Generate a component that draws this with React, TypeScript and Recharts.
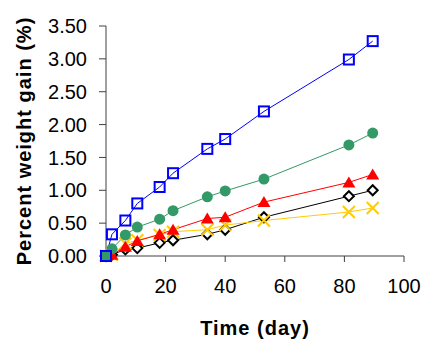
import { LineChart, Line, XAxis, YAxis } from 'recharts'

const days = [0, 2, 6.5, 10.5, 18, 22.5, 34, 40, 53, 81.5, 89.5]
const squareSeries = [0, 0.33, 0.54, 0.8, 1.05, 1.26, 1.63, 1.78, 2.2, 2.99, 3.27]
const circleSeries = [0, 0.11, 0.32, 0.44, 0.56, 0.69, 0.9, 0.99, 1.17, 1.69, 1.87]
const triangleSeries = [0, 0.02, 0.14, 0.23, 0.33, 0.4, 0.57, 0.59, 0.82, 1.12, 1.24]
const diamondSeries = [0, 0.02, 0.1, 0.12, 0.2, 0.24, 0.33, 0.4, 0.59, 0.91, 1.0]
const crossSeries = [0, 0.02, 0.19, 0.24, 0.32, 0.37, 0.4, 0.47, 0.54, 0.67, 0.73]
const xTicks = [0, 20, 40, 60, 80, 100]
const yTicks = [0, 0.5, 1, 1.5, 2, 2.5, 3, 3.5]

const data = days.map((d, i) => ({
  day: d,
  sq: squareSeries[i],
  ci: circleSeries[i],
  tr: triangleSeries[i],
  di: diamondSeries[i],
  cr: crossSeries[i],
}))

const FONT = 'Arial, "Liberation Sans", sans-serif'

// marker shapes
const Square = (p: any) => (
  <rect key={p.key} x={p.cx - 5} y={p.cy - 5} width={10} height={10} fill="none" stroke="#0000FF" strokeWidth={2} />
)
const Circle = (p: any) => <circle key={p.key} cx={p.cx} cy={p.cy} r={5.5} fill="#339966" stroke="none" />
const Triangle = (p: any) => (
  <path key={p.key} d={`M${p.cx},${p.cy - 6} L${p.cx + 6.5},${p.cy + 5} L${p.cx - 6.5},${p.cy + 5} Z`} fill="#FF0000" />
)
const Diamond = (p: any) => (
  <path key={p.key} d={`M${p.cx},${p.cy - 5} L${p.cx + 5},${p.cy} L${p.cx},${p.cy + 5} L${p.cx - 5},${p.cy} Z`} fill="#fff" stroke="#000" strokeWidth={2} />
)
const Cross = (p: any) => (
  <path key={p.key} d={`M${p.cx - 6},${p.cy - 6} L${p.cx + 6},${p.cy + 6} M${p.cx + 6},${p.cy - 6} L${p.cx - 6},${p.cy + 6}`} stroke="#FFCC00" strokeWidth={2} fill="none" />
)

export default function App() {
  return (
    <div style={{ position: 'absolute', left: 0, top: 0 }}>
      <LineChart width={424} height={341} data={data} margin={{ top: 26, right: 20, left: 0, bottom: 0 }}>
        <XAxis
          dataKey="day"
          type="number"
          domain={[0, 100]}
          ticks={xTicks}
          height={85}
          tickSize={6}
          tickMargin={17}
          stroke="#404040"
          tick={{ fill: '#000', fontSize: 20, fontFamily: FONT }}
          label={{ value: 'Time (day)', position: 'insideBottom', offset: 6, fill: '#000', fontSize: 20, fontWeight: 'bold', fontFamily: FONT, letterSpacing: 1 }}
        />
        <YAxis
          type="number"
          domain={[0, 3.5]}
          ticks={yTicks}
          width={106}
          tickSize={7}
          tickMargin={12}
          stroke="#404040"
          tickFormatter={(v: number) => v.toFixed(2)}
          tick={{ fill: '#000', fontSize: 20, fontFamily: FONT }}
          label={{ value: 'Percent weight gain (%)', angle: -90, position: 'insideLeft', offset: 24, fill: '#000', fontSize: 20, fontWeight: 'bold', fontFamily: FONT, letterSpacing: 1, style: { textAnchor: 'middle' } }}
        />
        <Line dataKey="di" stroke="#000000" strokeWidth={1} dot={Diamond} isAnimationActive={false} />
        <Line dataKey="cr" stroke="#FFCC00" strokeWidth={1} dot={Cross} isAnimationActive={false} />
        <Line dataKey="tr" stroke="#FF0000" strokeWidth={1} dot={Triangle} isAnimationActive={false} />
        <Line dataKey="ci" stroke="#339966" strokeWidth={1} dot={Circle} isAnimationActive={false} />
        <Line dataKey="sq" stroke="#0000FF" strokeWidth={1} dot={Square} isAnimationActive={false} />
      </LineChart>
    </div>
  )
}
